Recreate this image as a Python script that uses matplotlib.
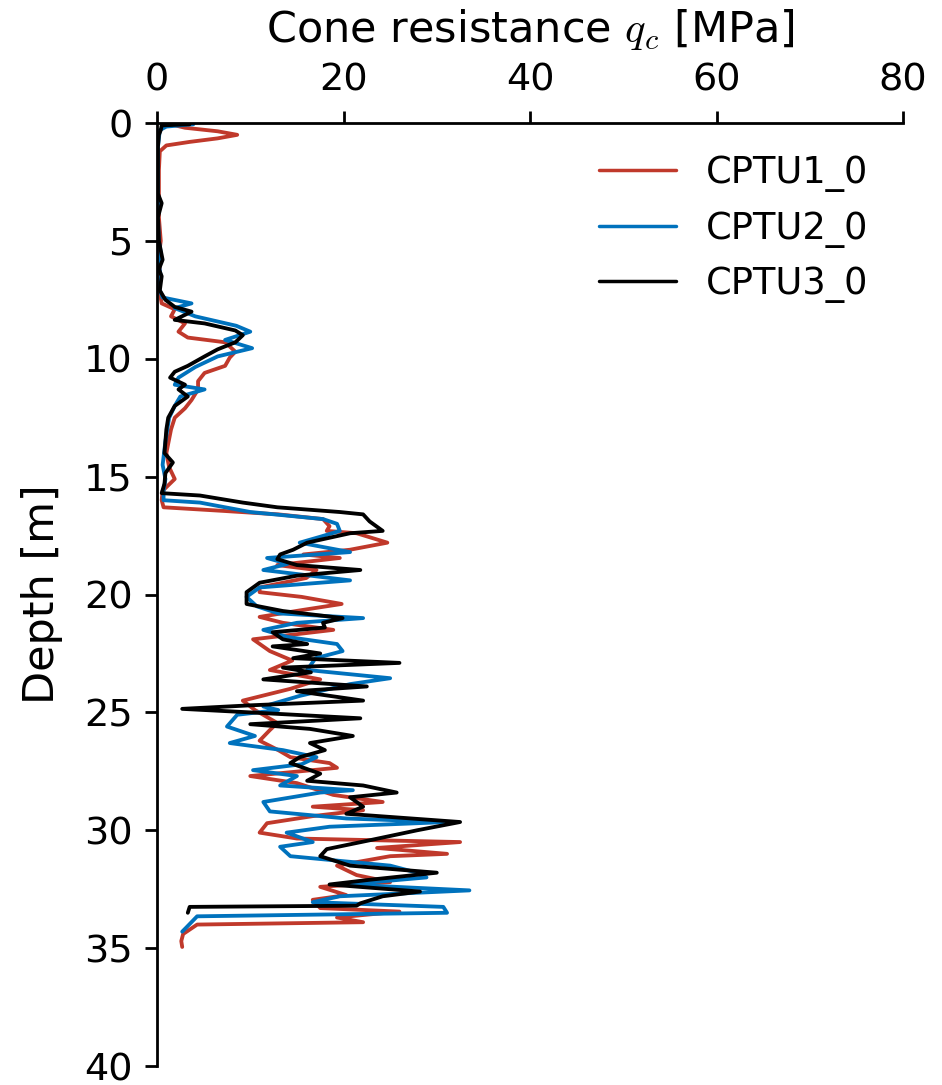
import matplotlib
matplotlib.use("Agg")
import matplotlib.pyplot as plt

# ---- data (depth in m, cone resistance qc in MPa) ----
labels = ["CPTU1_0", "CPTU2_0", "CPTU3_0"]
colors = ["#C0392B", "#0072BD", "#000000"]

depth_1 = [0.0, 0.2, 0.35, 0.5, 0.65, 0.8, 0.95, 1.2, 2.0, 3.0,
           4.0, 5.0, 5.6, 6.2, 7.0, 7.65, 7.9, 8.2, 8.5, 8.85,
           9.1, 9.3, 9.7, 9.95, 10.3, 10.6, 10.95, 11.3, 11.75, 12.1,
           12.5, 13.0, 14.0, 14.6, 15.1, 15.6, 16.0, 16.3, 16.45, 16.6,
           16.8, 17.1, 17.3, 17.4, 17.8, 18.1, 18.3, 18.45, 18.75, 18.96,
           19.3, 19.7, 19.9, 20.1, 20.4, 20.65, 20.95, 21.2, 21.5, 21.9,
           22.4, 22.8, 23.2, 23.6, 24.0, 24.5, 24.9, 25.45, 25.75, 26.2,
           26.6, 26.9, 27.15, 27.35, 27.7, 28.0, 28.5, 28.8, 29.0, 29.15,
           29.4, 29.7, 30.1, 30.35, 30.5, 30.75, 31.0, 31.1, 31.5, 31.9,
           32.2, 32.4, 32.75, 32.95, 33.3, 33.45, 33.7, 33.9, 34.0, 34.4,
           34.7, 34.95]
qc_1 = [0.9, 3.0, 6.5, 8.6, 6.5, 3.5, 1.0, 0.3, 0.2, 0.2,
        0.2, 0.4, 0.2, 0.3, 0.2, 0.5, 1.9, 1.5, 3.0, 2.3,
        3.3, 7.3, 8.4, 7.8, 7.3, 5.1, 4.4, 4.4, 3.7, 3.0,
        1.9, 1.5, 1.0, 1.3, 1.9, 0.6, 0.5, 0.7, 7.0, 13.0,
        17.8, 18.5, 18.2, 21.4, 24.7, 20.7, 15.7, 19.6, 12.9, 17.1,
        16.0, 11.0, 11.0, 15.5, 19.8, 15.7, 11.0, 13.5, 18.9, 10.3,
        12.1, 14.5, 12.1, 17.5, 14.3, 9.2, 10.5, 12.9, 12.1, 11.0,
        13.0, 14.3, 18.5, 19.3, 10.0, 15.0, 18.9, 24.2, 16.7, 22.1,
        16.7, 11.8, 11.0, 15.0, 32.5, 23.6, 31.1, 25.0, 19.3, 21.4,
        25.0, 17.5, 20.3, 16.7, 17.5, 26.0, 19.3, 22.1, 4.3, 2.8,
        2.6, 2.7]

depth_2 = [0.0, 0.05, 0.15, 0.3, 1.0, 2.0, 3.0, 4.0, 5.0, 5.5,
           6.0, 6.5, 7.0, 7.4, 7.65, 7.85, 8.2, 8.6, 8.85, 9.2,
           9.55, 9.9, 10.35, 10.8, 11.1, 11.3, 11.6, 12.0, 12.5, 13.5,
           14.5, 15.1, 15.6, 16.0, 16.1, 16.5, 16.8, 17.0, 17.3, 17.55,
           17.8, 18.2, 18.45, 18.7, 18.96, 19.4, 19.7, 20.1, 20.5, 20.8,
           21.0, 21.2, 21.5, 21.8, 22.1, 22.4, 22.7, 23.2, 23.55, 23.8,
           24.3, 24.75, 24.9, 25.1, 25.6, 26.0, 26.3, 26.6, 26.9, 27.2,
           27.45, 27.7, 28.1, 28.3, 28.4, 28.8, 29.2, 29.5, 29.65, 29.85,
           30.1, 30.5, 30.7, 31.1, 31.5, 31.8, 32.0, 32.3, 32.55, 32.8,
           33.05, 33.25, 33.5, 33.65, 34.1, 34.3]
qc_2 = [2.0, 3.9, 1.0, 0.3, 0.1, 0.1, 0.1, 0.1, 0.2, 0.4,
        0.2, 0.4, 0.2, 0.6, 3.7, 1.9, 4.1, 8.5, 10.0, 7.3,
        10.2, 6.5, 4.1, 2.3, 1.9, 5.1, 2.5, 1.9, 1.3, 0.9,
        0.6, 0.9, 0.7, 0.7, 4.6, 10.0, 17.8, 19.3, 19.6, 17.5,
        15.3, 20.7, 11.8, 14.0, 11.4, 20.7, 11.0, 9.6, 10.7, 13.0,
        22.1, 15.0, 11.4, 14.0, 19.3, 19.9, 17.0, 16.1, 25.0, 20.7,
        15.3, 11.4, 13.0, 8.6, 7.5, 10.5, 7.8, 13.5, 17.1, 15.5,
        10.3, 15.0, 13.2, 21.0, 17.5, 11.4, 12.1, 20.3, 31.1, 18.5,
        13.9, 16.7, 13.2, 14.3, 25.0, 27.9, 28.9, 20.3, 33.5, 19.6,
        16.7, 30.7, 31.1, 4.3, 3.2, 2.7]

depth_3 = [0.0, 0.05, 0.1, 0.3, 0.5, 1.0, 2.0, 3.0, 3.4, 4.0,
           5.0, 5.8, 6.2, 6.5, 7.1, 7.5, 7.8, 8.0, 8.35, 8.5,
           8.8, 9.0, 9.3, 9.6, 9.9, 10.3, 10.55, 10.8, 11.1, 11.3,
           11.6, 12.0, 12.5, 13.0, 14.0, 14.4, 14.85, 15.3, 15.7, 15.8,
           16.1, 16.3, 16.5, 16.6, 16.9, 17.3, 17.4, 17.8, 18.1, 18.3,
           18.5, 18.75, 18.96, 19.2, 19.5, 19.9, 20.4, 20.7, 21.0, 21.2,
           21.4, 21.6, 21.9, 22.1, 22.2, 22.5, 22.7, 22.9, 23.1, 23.3,
           23.6, 23.9, 24.1, 24.5, 24.7, 24.85, 25.0, 25.25, 25.5, 25.7,
           26.0, 26.3, 26.6, 26.9, 27.15, 27.6, 27.9, 28.1, 28.4, 28.6,
           29.0, 29.3, 29.65, 30.0, 30.4, 30.8, 31.1, 31.5, 31.8, 32.1,
           32.3, 32.6, 32.8, 33.1, 33.2, 33.25, 33.5]
qc_3 = [1.5, 3.5, 0.5, 0.4, 0.2, 0.1, 0.1, 0.1, 0.5, 0.1,
        0.2, 0.6, 0.2, 0.5, 0.3, 0.9, 1.9, 3.7, 1.9, 5.1,
        8.4, 9.2, 8.4, 6.5, 5.1, 3.3, 1.9, 1.4, 3.0, 2.3,
        3.3, 1.9, 1.2, 1.0, 0.8, 1.7, 0.9, 0.8, 0.5, 4.6,
        9.2, 12.9, 19.6, 22.1, 22.8, 24.2, 20.7, 16.1, 14.6, 13.2,
        12.9, 15.0, 21.8, 15.0, 11.0, 9.6, 9.6, 13.5, 19.9, 17.8,
        18.0, 12.4, 13.5, 16.1, 12.4, 17.5, 14.6, 26.0, 13.5, 16.5,
        11.4, 22.5, 15.0, 22.1, 10.0, 2.7, 10.0, 21.8, 10.0, 16.4,
        21.0, 16.4, 18.0, 15.3, 14.3, 17.5, 16.1, 22.1, 25.7, 20.7,
        22.1, 20.3, 32.5, 27.9, 23.1, 18.2, 17.5, 20.7, 30.0, 22.8,
        18.5, 28.2, 24.2, 21.8, 21.4, 3.5, 3.3]

x_ticks = [0, 20, 40, 60, 80]
y_ticks = [0, 5, 10, 15, 20, 25, 30, 35, 40]

plt.rcParams["font.family"] = ["DejaVu Sans"]
plt.rcParams["font.size"] = 11
plt.rcParams["mathtext.fontset"] = "cm"

fig = plt.figure(figsize=(3.768, 4.34), dpi=250)
ax = fig.add_axes([0.1667, 0.0175, 0.7919, 0.8691])

series = [(depth_1, qc_1), (depth_2, qc_2), (depth_3, qc_3)]
for (d, q), lab, col in zip(series, labels, colors):
    n = min(len(d), len(q))
    ax.plot(q[:n], d[:n], color=col, lw=1.1, label=lab,
            solid_joinstyle="round", solid_capstyle="round")

ax.set_xlim(0, 80)
ax.set_ylim(40, 0)
ax.set_xticks(x_ticks)
ax.set_yticks(y_ticks)
ax.tick_params(labelsize=11)
ax.xaxis.tick_top()
ax.xaxis.set_label_position("top")
ax.set_xlabel("Cone resistance $q_c$ [MPa]", fontsize=12.4, labelpad=6)
ax.set_ylabel("Depth [m]", fontsize=12.4, labelpad=6)
ax.spines["right"].set_visible(False)
ax.spines["bottom"].set_visible(False)
leg = ax.legend(loc="upper right", frameon=False, bbox_to_anchor=(0.998, 1.002),
                fontsize=10.6, handlelength=2.1, labelspacing=0.47)
for line in leg.get_lines():
    line.set_linewidth(1.0)

fig.savefig("out.png", dpi=250)
